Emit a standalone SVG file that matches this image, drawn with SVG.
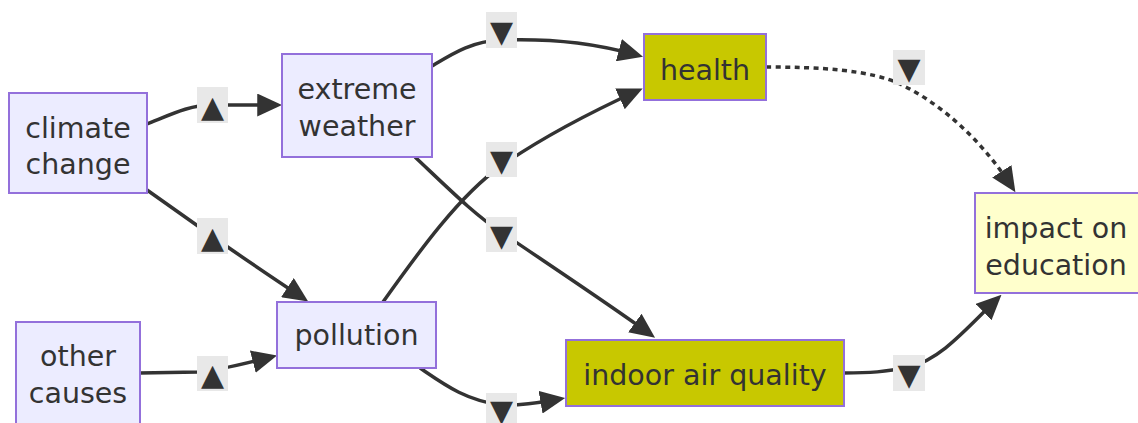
<svg xmlns="http://www.w3.org/2000/svg" width="1138" height="423" viewBox="0 0 1138 423">
  <style>
    .node rect { fill: #ECECFF; stroke: #9370DB; stroke-width: 2; }
    .node.hot rect { fill: #C8C800; }
    .node.goal rect { fill: #FFFFCC; }
    .node text { font-family: "DejaVu Sans", "Noto Sans", sans-serif; font-size: 28.5px; fill: #333333; text-anchor: middle; }
    .edge { fill: none; stroke: #333333; stroke-width: 3.5; }
    .dotted { stroke-dasharray: 5 4.5; }
    .lbl rect { fill: #E8E8E8; }
    .lbl text { font-family: "DejaVu Sans", sans-serif; font-size: 30px; fill: #333333; text-anchor: middle; }
  </style>
  <defs>
    <marker id="arrow" viewBox="0 0 12 11" refX="9" refY="5.5" markerUnits="userSpaceOnUse" markerWidth="25" markerHeight="23" orient="auto">
      <path d="M0,0 L12,5.5 L0,11 z" fill="#333333"/>
    </marker>
  </defs>

  <rect width="1138" height="423" fill="#ffffff"/>

  <!-- connectors -->
  <g id="edges">
    <path class="edge" marker-end="url(#arrow)" d="M147,124 C172,114 190,105 212,105 L276,105"/>
    <path class="edge" marker-end="url(#arrow)" d="M147,190 L212,236 C240,256 270,276 303,298"/>
    <path class="edge" marker-end="url(#arrow)" d="M140,373 L198,372 C216,371 240,365 271,357"/>
    <path class="edge" marker-end="url(#arrow)" d="M432,66 C452,54 472,41 501,40 C560,38 600,45 637,55"/>
    <path class="edge" marker-end="url(#arrow)" d="M383,302 C420,250 460,195 501,166 C550,132 600,108 637,91"/>
    <path class="edge" marker-end="url(#arrow)" d="M415,157 C450,190 475,215 501,232 C560,272 610,305 650,334"/>
    <path class="edge" marker-end="url(#arrow)" d="M420,368 C445,385 465,400 501,405 C525,406 542,402 559,399"/>
    <path class="edge" marker-end="url(#arrow)" d="M844,373 C870,373 885,372 909,367 C940,360 965,330 997,299"/>
    <path class="edge dotted" marker-end="url(#arrow)" d="M766,67 C820,67 870,70 900,84 C950,108 988,150 1012,187"/>
  </g>

  <!-- edge labels -->
  <g id="edge-labels">
    <g class="lbl"><rect x="197" y="87" width="31" height="36"/><text x="212.5" y="117">▲</text></g>
    <g class="lbl"><rect x="197" y="218" width="31" height="36"/><text x="212.5" y="248">▲</text></g>
    <g class="lbl"><rect x="197" y="356" width="31" height="35"/><text x="212.5" y="385">▲</text></g>
    <g class="lbl"><rect x="486" y="12" width="31" height="36"/><text x="501.5" y="42">▼</text></g>
    <g class="lbl"><rect x="486" y="142" width="31" height="35"/><text x="501.5" y="171">▼</text></g>
    <g class="lbl"><rect x="486" y="217" width="31" height="35"/><text x="501.5" y="246">▼</text></g>
    <g class="lbl"><rect x="486" y="393" width="31" height="30"/><text x="501.5" y="421">▼</text></g>
    <g class="lbl"><rect x="893" y="355" width="32" height="36"/><text x="909" y="385">▼</text></g>
    <g class="lbl"><rect x="893" y="50" width="32" height="35"/><text x="909" y="79">▼</text></g>
  </g>

  <!-- nodes -->
  <g id="climate-change" class="node">
    <rect x="9" y="93" width="138" height="100"/>
    <text x="78" y="138">climate</text>
    <text x="78" y="174">change</text>
  </g>
  <g id="other-causes" class="node">
    <rect x="16" y="322" width="124" height="110"/>
    <text x="78" y="366">other</text>
    <text x="78" y="403">causes</text>
  </g>
  <g id="extreme-weather" class="node">
    <rect x="282" y="54" width="150" height="103"/>
    <text x="357" y="99">extreme</text>
    <text x="357" y="136">weather</text>
  </g>
  <g id="pollution" class="node">
    <rect x="277" y="302" width="159" height="66"/>
    <text x="356.5" y="345">pollution</text>
  </g>
  <g id="health" class="node hot">
    <rect x="644" y="34" width="122" height="66"/>
    <text x="705" y="80">health</text>
  </g>
  <g id="indoor-air-quality" class="node hot">
    <rect x="566" y="340" width="278" height="66"/>
    <text x="705" y="385">indoor air quality</text>
  </g>
  <g id="impact-on-education" class="node goal">
    <rect x="975" y="193" width="170" height="100"/>
    <text x="1056" y="238">impact on</text>
    <text x="1056" y="275">education</text>
  </g>
</svg>
